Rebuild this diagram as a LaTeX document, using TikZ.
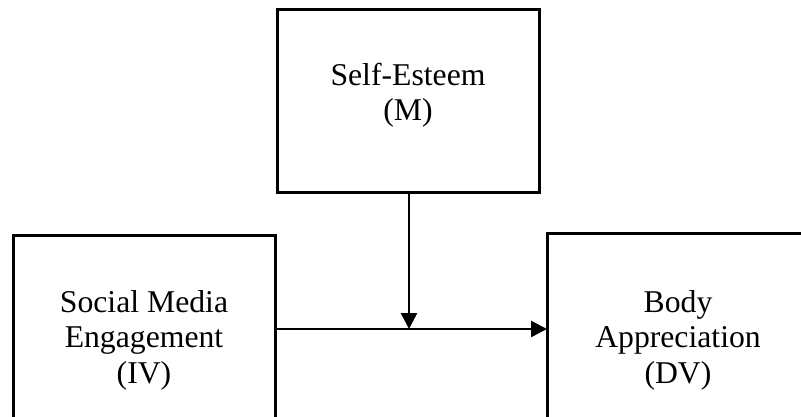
\documentclass[tikz,border=0pt]{standalone}
\usepackage{fontspec}
\setmainfont{Liberation Serif}
\usetikzlibrary{arrows.meta}
\begin{document}
\begin{tikzpicture}[x=1pt,y=-1pt,
  box/.style={draw=black, line width=3pt, minimum width=262pt, minimum height=183pt, inner sep=0pt, outer sep=0pt},
  lbl/.style={font=\fontsize{31.7}{35.5}\selectfont, align=center, inner sep=0pt, anchor=base},
  arr/.style={line width=2.6pt, -{Triangle[length=16pt,width=16pt]}}]
\useasboundingbox (0,0) rectangle (801,417);
\clip (0,0) rectangle (801,417);
\node[box] (m) at (408,101.5) {};
\node[box, minimum height=200pt] (iv) at (144,335) {};
\node[box, minimum height=200pt] (dv) at (678,333) {};
\node[lbl] (mt) at (408,121) {Self-Esteem\\(M)};
\node[lbl] (ivt) at (144,383) {Social Media\\Engagement\\(IV)};
\node[lbl] (dvt) at (678,383) {Body\\Appreciation\\(DV)};
\coordinate (j) at (409,329);
\draw[arr] (iv.east |- j) -- (dv.west |- j);
\draw[arr] (m.south -| j) -- (j);
\end{tikzpicture}
\end{document}
